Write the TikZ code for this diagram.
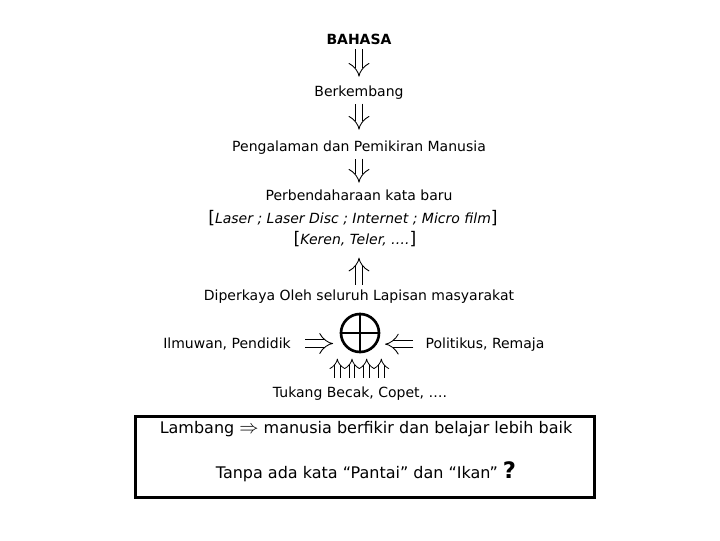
\documentclass[tikz,border=0pt]{standalone}
\usepackage{fontspec}
\setmainfont{DejaVu Sans}
\usetikzlibrary{arrows.meta, calc}

\begin{document}
\begin{tikzpicture}[x=0.75pt, y=-0.75pt, txt/.style={anchor=base, font=\fontsize{10.5}{12}\selectfont}, big/.style={anchor=base, font=\fontsize{12}{14}\selectfont}, brk/.style={font=\fontsize{13}{14}\selectfont}, dbl/.style={double, double distance=5pt, line width=0.65pt, -{Implies}}, thin/.style={double distance=3.6pt, line width=0.6pt}, frame/.style={draw, line width=2pt, minimum width=344pt, minimum height=61pt}, sumnode/.style={draw, circle, line width=2pt, inner sep=0pt, minimum size=28.5pt}]
            \useasboundingbox (0,0) rectangle (720,540);
            % nodes
            \node[txt, font=\fontsize{10.5}{12}\selectfont\bfseries] (bahasa) at (359,44) {BAHASA};
            \node[txt] (berkembang) at (359,96) {Berkembang};
            \node[txt] (pengalaman) at (359,151) {Pengalaman dan Pemikiran Manusia};
            \node[txt] (perben) at (359,200) {Perbendaharaan kata baru};
            \node[txt] (laser) at (353,223) {{\fontsize{13}{14}\selectfont[}\textit{Laser ; Laser Disc ; Internet ; Micro film}{\fontsize{13}{14}\selectfont]}};
            \node[txt] (keren) at (355,244) {{\fontsize{13}{14}\selectfont[}\textit{Keren, Teler, ….}{\fontsize{13}{14}\selectfont]}};
            \node[txt] (diperkaya) at (359,300) {Diperkaya Oleh seluruh Lapisan masyarakat};
            \node[sumnode] (sum) at (360,333) {};
            \node[txt] (ilmu) at (227,348) {Ilmuwan, Pendidik};
            \node[txt] (politik) at (485,348) {Politikus, Remaja};
            \node[txt] (tukang) at (360,397) {Tukang Becak, Copet, ….};
            \node[frame] (box) at (365,457) {};
            \node[big] (lambang) at (366,433) {Lambang {\fontsize{14}{14}\selectfont$\Rightarrow$} manusia berfikir dan belajar lebih baik};
            \node[big] (tanpa) at (366,478) {Tanpa ada kata “Pantai” dan “Ikan” {\fontsize{17}{20}\selectfont\bfseries ?}};
            % plus sign
            \draw[line width=2pt] (sum.north) -- (sum.south);
            \draw[line width=2pt] (sum.west) -- (sum.east);
            % edges
            \draw[dbl, shorten >=3pt] (bahasa) -- (berkembang);
            \draw[dbl, shorten >=4.5pt] (berkembang) -- (pengalaman);
            \draw[dbl, shorten >=1.5pt] (pengalaman) -- (perben);
            \draw[dbl, shorten >=5pt] (diperkaya.north) -- (diperkaya.north |- keren.south);
            \draw[dbl, shorten <=7.5pt, shorten >=5pt] (ilmu) -- (ilmu -| sum.west);
            \draw[dbl, shorten <=5.7pt, shorten >=3.5pt] (politik) -- (politik -| sum.east);
            \foreach \dx in {-17,-6,5,16}
                \draw[dbl, thin, shorten <=3pt, shorten >=4pt] ($(tukang.north)+(\dx pt,0)$) -- ($(tukang.north |- sum.south)+(\dx pt,0)$);
        \end{tikzpicture}
\end{document}
